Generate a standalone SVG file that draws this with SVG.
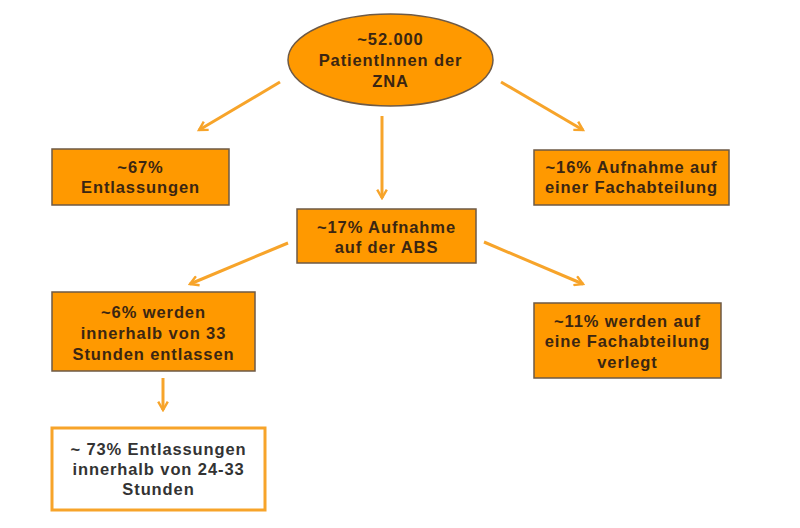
<svg xmlns="http://www.w3.org/2000/svg" width="800" height="528" viewBox="0 0 800 528">
<defs>
<marker id="ah" viewBox="0 0 10 10" refX="8" refY="5" markerWidth="4" markerHeight="4" orient="auto" markerUnits="strokeWidth">
<path d="M1,1 L8,5 L1,9" fill="none" stroke="#F7A42A" stroke-width="2" stroke-linejoin="miter"/>
</marker>
<style>
.box{fill:#FF9900;stroke:#6e5a46;stroke-width:1.5}
.wbox{fill:#ffffff;stroke:#F7A42A;stroke-width:3}
.t{font-family:"Liberation Sans",Arial,sans-serif;font-weight:bold;font-size:16.5px;fill:#3b2612;text-anchor:middle;letter-spacing:0.9px}
.tw{fill:#333333}
.c{fill:none;stroke:#F7A42A;stroke-width:3;marker-end:url(#ah)}
</style>
</defs>
<rect width="800" height="528" fill="#ffffff"/>
<g id="connectors">
<line class="c" x1="280" y1="82" x2="199" y2="130"/>
<line class="c" x1="382" y1="116" x2="382" y2="198"/>
<line class="c" x1="501" y1="82" x2="583" y2="130"/>
<line class="c" x1="288" y1="243" x2="190" y2="284"/>
<line class="c" x1="484" y1="242" x2="583" y2="284"/>
<line class="c" x1="163" y1="378" x2="163" y2="410"/>
</g>
<g id="n-zna">
<ellipse cx="390.5" cy="60" rx="102.5" ry="46" fill="#FF9900" stroke="#6e5a46" stroke-width="1.5"/>
<text class="t" x="390.5" y="45">~52.000</text>
<text class="t" x="390.5" y="65.5">PatientInnen der</text>
<text class="t" x="390.5" y="86.5">ZNA</text>
</g>
<g id="n-67">
<rect class="box" x="52" y="149" width="177" height="56"/>
<text class="t" x="140.5" y="173">~67%</text>
<text class="t" x="140.5" y="193">Entlassungen</text>
</g>
<g id="n-16">
<rect class="box" x="534" y="150" width="195" height="55"/>
<text class="t" x="631.5" y="173">~16% Aufnahme auf</text>
<text class="t" x="631.5" y="193">einer Fachabteilung</text>
</g>
<g id="n-abs">
<rect class="box" x="297" y="209" width="179" height="54"/>
<text class="t" x="386.5" y="233">~17% Aufnahme</text>
<text class="t" x="386.5" y="253">auf der ABS</text>
</g>
<g id="n-6">
<rect class="box" x="52" y="292" width="203" height="79"/>
<text class="t" x="153.5" y="318">~6% werden</text>
<text class="t" x="153.5" y="339">innerhalb von 33</text>
<text class="t" x="153.5" y="360">Stunden entlassen</text>
</g>
<g id="n-11">
<rect class="box" x="534" y="303" width="187" height="75"/>
<text class="t" x="627.5" y="327">~11% werden auf</text>
<text class="t" x="627.5" y="347">eine Fachabteilung</text>
<text class="t" x="627.5" y="368">verlegt</text>
</g>
<g id="n-73">
<rect class="wbox" x="52" y="428" width="213" height="82"/>
<text class="t tw" x="158.5" y="455">~ 73% Entlassungen</text>
<text class="t tw" x="158.5" y="475">innerhalb von 24-33</text>
<text class="t tw" x="158.5" y="495">Stunden</text>
</g>
</svg>
